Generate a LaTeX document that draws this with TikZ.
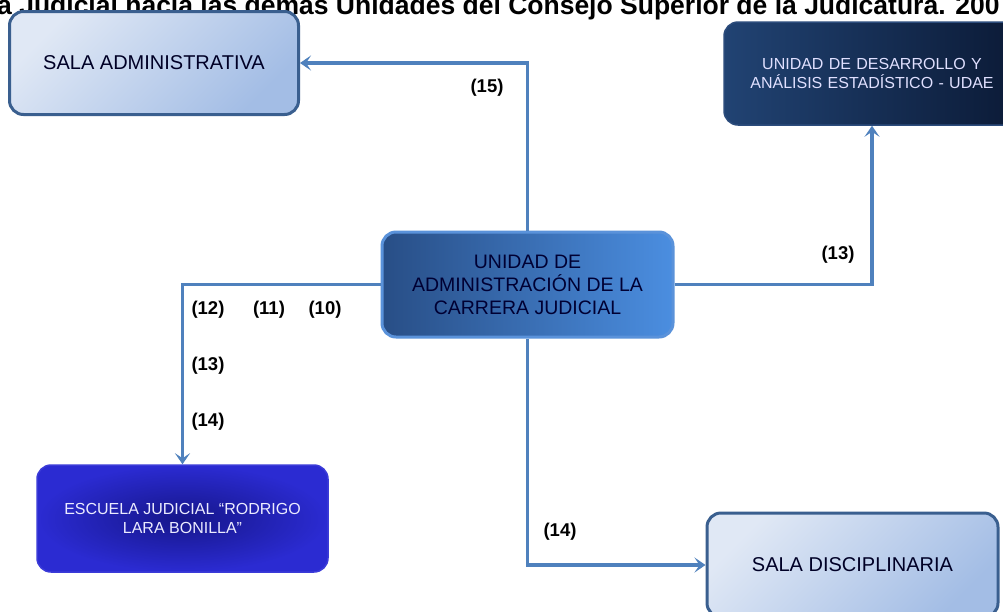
\documentclass[tikz,border=0pt]{standalone}
\usepackage{fontspec}
\setmainfont{Liberation Sans}
\usetikzlibrary{arrows.meta}
\definecolor{conncol}{HTML}{4F81BD}
\definecolor{lightA}{HTML}{E0E8F5}
\definecolor{lightB}{HTML}{A3BDE5}
\definecolor{lightborder}{HTML}{3A5F8F}
\definecolor{cenA}{HTML}{284E86}
\definecolor{cenB}{HTML}{4B8EE0}
\definecolor{cenborder}{HTML}{5A92DA}
\definecolor{udaeA}{HTML}{214373}
\definecolor{udaeB}{HTML}{0B1A36}
\definecolor{udaeborder}{HTML}{2C4C7C}
\definecolor{escA}{HTML}{16168A}
\definecolor{escB}{HTML}{2B2BD2}
\definecolor{escborder}{HTML}{3B3BD8}
\tikzset{
  boxbase/.style={rectangle, rounded corners=14pt, align=center, inner sep=2pt},
  lightbox/.style={boxbase, draw=lightborder, line width=3pt, top color=lightA, bottom color=lightB, shading angle=45,
    text=black!85!blue, font=\fontsize{20}{24}\selectfont},
  cenbox/.style={boxbase, draw=cenborder, line width=3pt, left color=cenA, right color=cenB,
    text=black!80!blue, font=\fontsize{19.5}{23}\selectfont},
  udaebox/.style={boxbase, draw=udaeborder, line width=1.5pt, left color=udaeA, right color=udaeB,
    text=white!88!blue, font=\fontsize{16}{18.5}\selectfont},
  escbox/.style={boxbase, draw=escborder, line width=1.5pt, inner color=escA, outer color=escB,
    text=white!92!blue, font=\fontsize{16}{18.5}\selectfont},
  conn/.style={draw=conncol, line width=3.5pt, -{Stealth[length=11pt,width=15pt,inset=5pt]}},
  lbl/.style={font=\bfseries\fontsize{18.5}{21}\selectfont, inner sep=0pt}
}
\begin{document}
\begin{tikzpicture}[x=1pt,y=-1pt]
\useasboundingbox (0,0) rectangle (1003,611);
\clip (0,0) rectangle (1003,611);
\fill[white] (0,0) rectangle (1003,611);
% title (clipped at the top)
\node[anchor=base west, inner sep=0pt, font=\bfseries\fontsize{26.5}{30}\selectfont] (title) at (-3,14)
  {a Judicial hacia las demás Unidades del Consejo Superior de la Judicatura. 200};
% boxes
\node[lightbox, minimum width=289pt, minimum height=103pt] (sa) at (154,63) {SALA ADMINISTRATIVA};
\node[udaebox, minimum width=296pt, minimum height=103pt, text width=280pt] (udae) at (872,73.5)
  {UNIDAD DE DESARROLLO Y\\ANÁLISIS ESTADÍSTICO - UDAE};
\node[cenbox, minimum width=291pt, minimum height=105pt] (cen) at (527.5,284.5)
  {UNIDAD DE\\ADMINISTRACIÓN DE LA\\CARRERA JUDICIAL};
\node[escbox, minimum width=291pt, minimum height=107pt] (esc) at (182.5,518.5)
  {ESCUELA JUDICIAL “RODRIGO\\LARA BONILLA”};
\node[lightbox, minimum width=291pt, minimum height=104pt] (sd) at (852.5,565) {SALA DISCIPLINARIA};
% connectors
\draw[conn] (cen.north) |- (sa.east);
\draw[conn] (cen.east) -| (udae.south);
\draw[conn] (cen.west) -| (esc.north);
\draw[conn] (cen.south) |- (sd.west);
% labels
\node[lbl] (l15) at (487,88) {(15)};
\node[lbl] (l13r) at (838,255) {(13)};
\node[lbl] (l12) at (208,310) {(12)};
\node[lbl] (l11) at (269,310) {(11)};
\node[lbl] (l10) at (325,310) {(10)};
\node[lbl] (l13l) at (208,366) {(13)};
\node[lbl] (l14l) at (208,422) {(14)};
\node[lbl] (l14b) at (560,532) {(14)};
\end{tikzpicture}
\end{document}
